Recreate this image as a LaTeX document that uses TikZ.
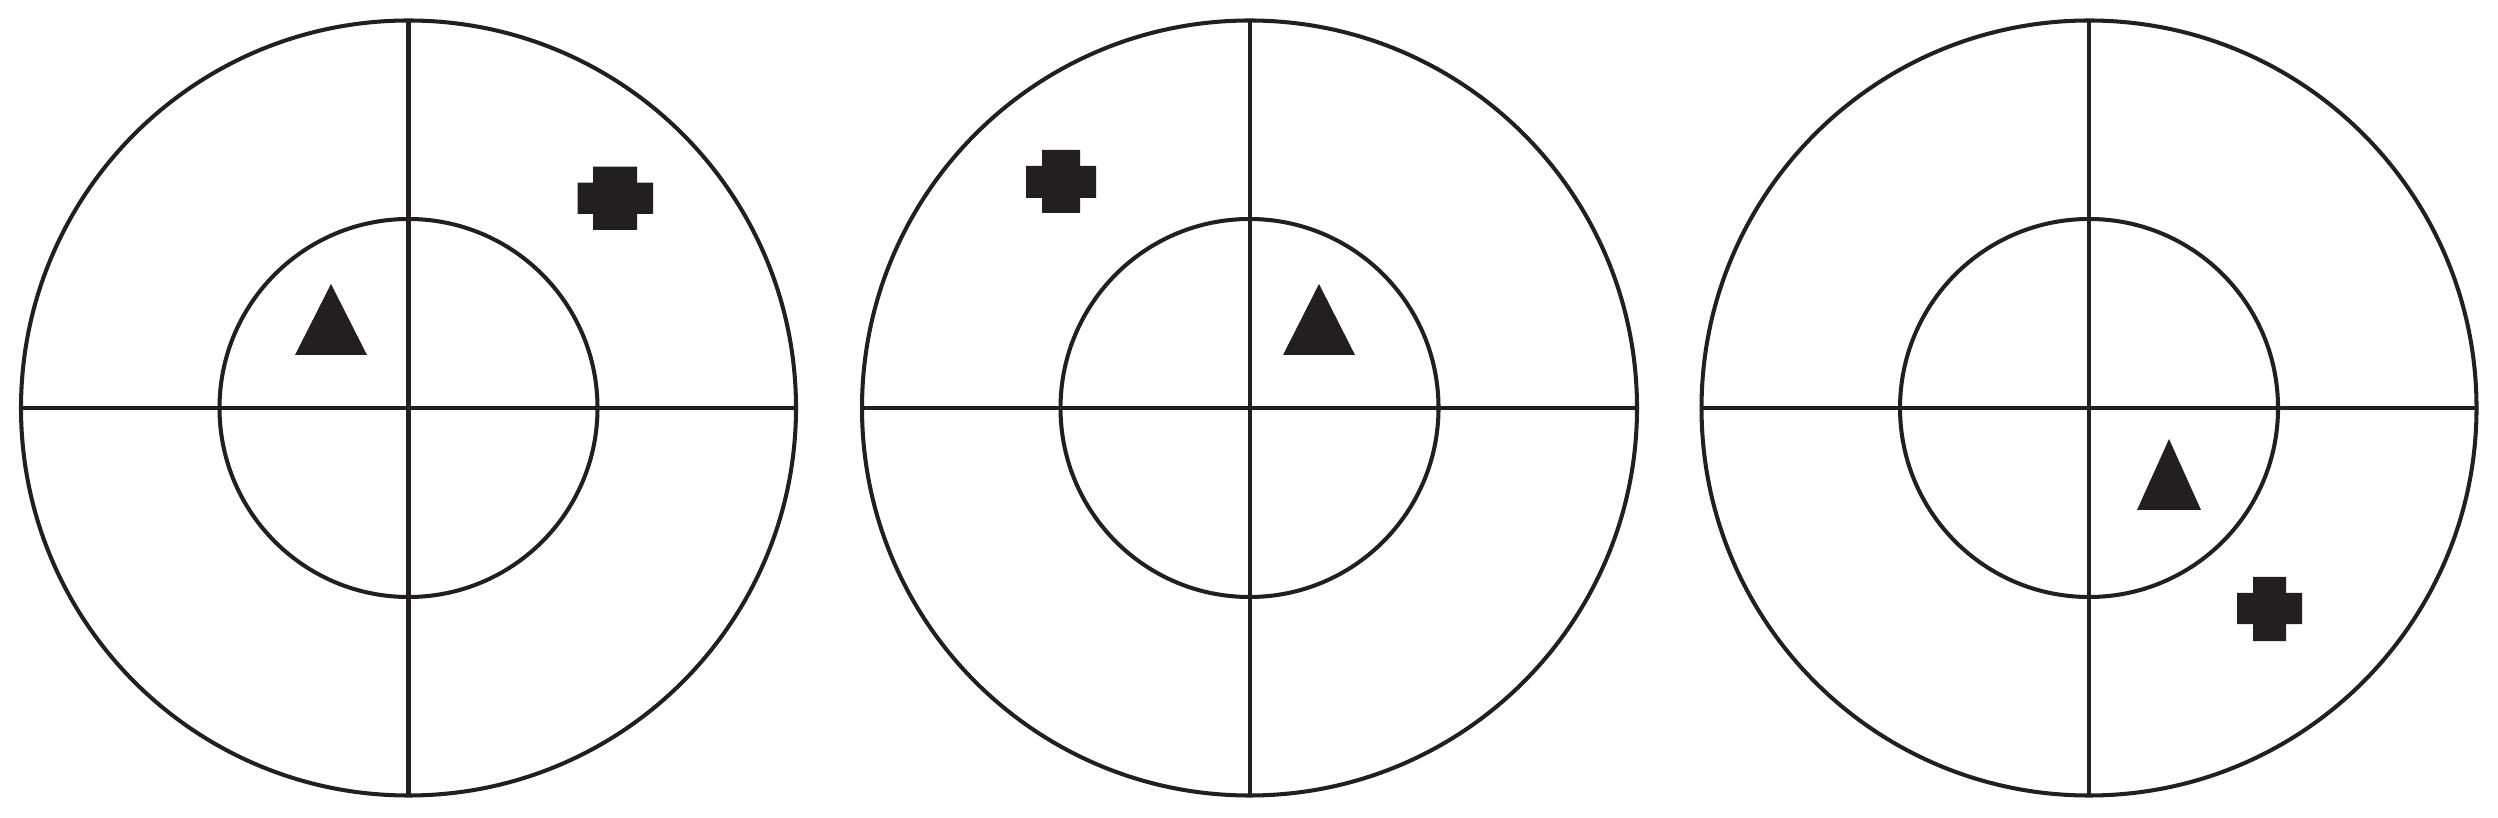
\documentclass[tikz,border=0pt]{standalone}
\usepackage{tikz}
\definecolor{targetink}{RGB}{35,31,32}

\begin{document}
\begin{tikzpicture}[line width=1.15pt]
        \useasboundingbox (0,0) rectangle (24.98,8.17);
        \foreach \cx in {4.085,12.495,20.89}{
          \draw[targetink] (\cx,4.09) circle (3.875);
          \draw[targetink] (\cx,4.09) circle (1.89);
          \draw[targetink] (\cx-3.875,4.09)--(\cx+3.875,4.09);
          \draw[targetink] (\cx,0.215)--(\cx,7.965);
        }
        % markers
        \fill[targetink] (3.31,5.33)--(2.95,4.62)--(3.67,4.62)--cycle;
        \fill[targetink] (5.93,5.87) rectangle (6.37,6.503) (5.777,6.03) rectangle (6.53,6.343);
        \fill[targetink] (13.19,5.33)--(12.83,4.62)--(13.55,4.62)--cycle;
        \fill[targetink] (10.42,6.04) rectangle (10.80,6.67) (10.26,6.19) rectangle (10.96,6.51);
        \fill[targetink] (21.69,3.78)--(21.37,3.07)--(22.01,3.07)--cycle;
        \fill[targetink] (22.53,1.76) rectangle (22.86,2.40) (22.37,1.93) rectangle (23.02,2.24);
      \end{tikzpicture}
\end{document}
